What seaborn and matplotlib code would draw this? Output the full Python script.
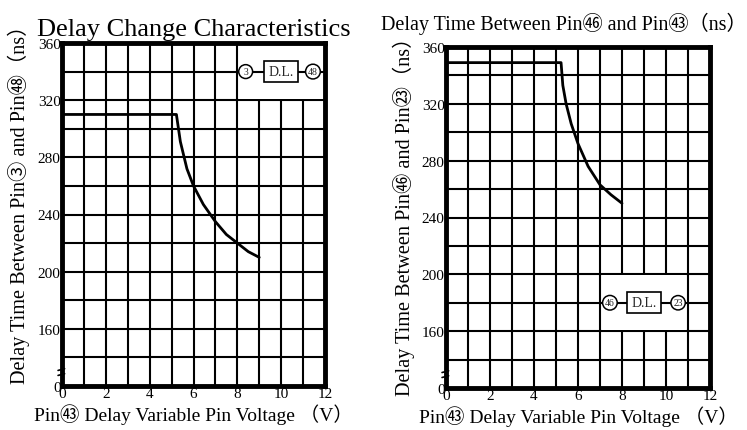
import numpy as np
import pandas as pd
import matplotlib
matplotlib.use("Agg")
import matplotlib.pyplot as plt
from matplotlib.patches import Rectangle
from matplotlib.ticker import MultipleLocator
import seaborn as sns

# curve
left_v = [0, 5.22, 5.4, 5.7, 6.0, 6.45, 7.0, 7.5, 8.0, 8.5, 9.0]
left_t = [310, 310, 291, 272, 260, 247, 235, 226, 220, 214, 210]
right_v = [0, 5.23, 5.31, 5.46, 5.69, 6.0, 6.46, 7.0, 7.5, 8.0]
right_t = [349, 349, 333, 320, 306, 292, 276, 263, 256, 250]

x_ticks = [0, 2, 4, 6, 8, 10, 12]
y_ticks = [120, 160, 200, 240, 280, 320, 360]
y_labels = ["0", "160", "200", "240", "280", "320", "360"]

sns.set_theme(style="white")
FAM = ["Liberation Serif", "Noto Sans CJK JP", "DejaVu Sans"]
plt.rcParams["font.family"] = FAM

fig = plt.figure(figsize=(7.47, 4.31), dpi=100)
ax1 = fig.add_axes([62/747, 1-387/431, 263/747, 343/431])
ax2 = fig.add_axes([446/747, 1-389/431, 264/747, 341/431])

def setup(ax):
    ax.set_xlim(0, 12)
    ax.set_ylim(120, 360)
    ax.set_xticks(x_ticks)
    ax.set_yticks(y_ticks, labels=y_labels)
    ax.xaxis.set_minor_locator(MultipleLocator(1))
    ax.yaxis.set_minor_locator(MultipleLocator(20))
    ax.set_axisbelow(True)
    ax.grid(True, which="both", color="black", linewidth=1.5)
    ax.tick_params(which="both", length=0, labelsize=11, colors="black", pad=1)
    for s in ax.spines.values():
        s.set_visible(True)
        s.set_color("black")
        s.set_linewidth(3.5)
    # axis break mark
    for yy in (128, 131.5):
        ax.plot([-0.18, 0.12], [yy - 0.6, yy + 0.6], color="black", lw=1.2, clip_on=False, zorder=5)
    ax.set_xlabel("Pin㊸ Delay Variable Pin Voltage （V）", fontsize=14, color="black", labelpad=2)

def inset(ax, x0, x1, y0, y1, yc, pos, pins):
    ax.add_patch(Rectangle((x0, y0), x1 - x0, y1 - y0, facecolor="white", edgecolor="none", zorder=1))
    ax.plot([x0, x1], [yc, yc], color="black", lw=1.5, zorder=2)
    ax.text(pos[0], yc, pins[0], ha="center", va="center", fontsize=7,
            bbox=dict(boxstyle="circle,pad=0.25", fc="white", ec="black", lw=1.1), zorder=3)
    ax.text(pos[1], yc, "D.L.", ha="center", va="center", fontsize=10,
            bbox=dict(boxstyle="square,pad=0.3", fc="white", ec="black", lw=1.2), zorder=3)
    ax.text(pos[2], yc, pins[1], ha="center", va="center", fontsize=7,
            bbox=dict(boxstyle="circle,pad=0.25", fc="white", ec="black", lw=1.1), zorder=3)

setup(ax1)
setup(ax2)

df1 = pd.DataFrame({"V": left_v, "T": left_t})
df2 = pd.DataFrame({"V": right_v, "T": right_t})
sns.lineplot(data=df1, x="V", y="T", ax=ax1, color="black", lw=2, sort=False, zorder=4)
sns.lineplot(data=df2, x="V", y="T", ax=ax2, color="black", lw=2, sort=False, zorder=4)

inset(ax1, 8.07, 12, 320.6, 360, 340, (8.38, 10.0, 11.45), ("3", "48"))
inset(ax2, 7.07, 10.93, 160.6, 199.4, 180, (7.45, 9.0, 10.55), ("46", "23"))

ax1.set_ylabel("Delay Time Between Pin③ and Pin㊽（ns）", fontsize=14.6, color="black")
ax2.set_ylabel("Delay Time Between Pin㊻ and Pin㉓（ns）", fontsize=14.6, color="black")
ax1.yaxis.set_label_coords(-32/263, 0.545)
ax2.yaxis.set_label_coords(-31/264, 0.52)

ax1.set_title("Delay Change Characteristics", fontsize=19, color="black", pad=6)
fig.text(564/747, 1-24/431, "Delay Time Between Pin㊻ and Pin㊸（ns）", fontsize=14.5,
         ha="center", va="center", color="black")

fig.savefig("out.png", dpi=100, facecolor="white")
